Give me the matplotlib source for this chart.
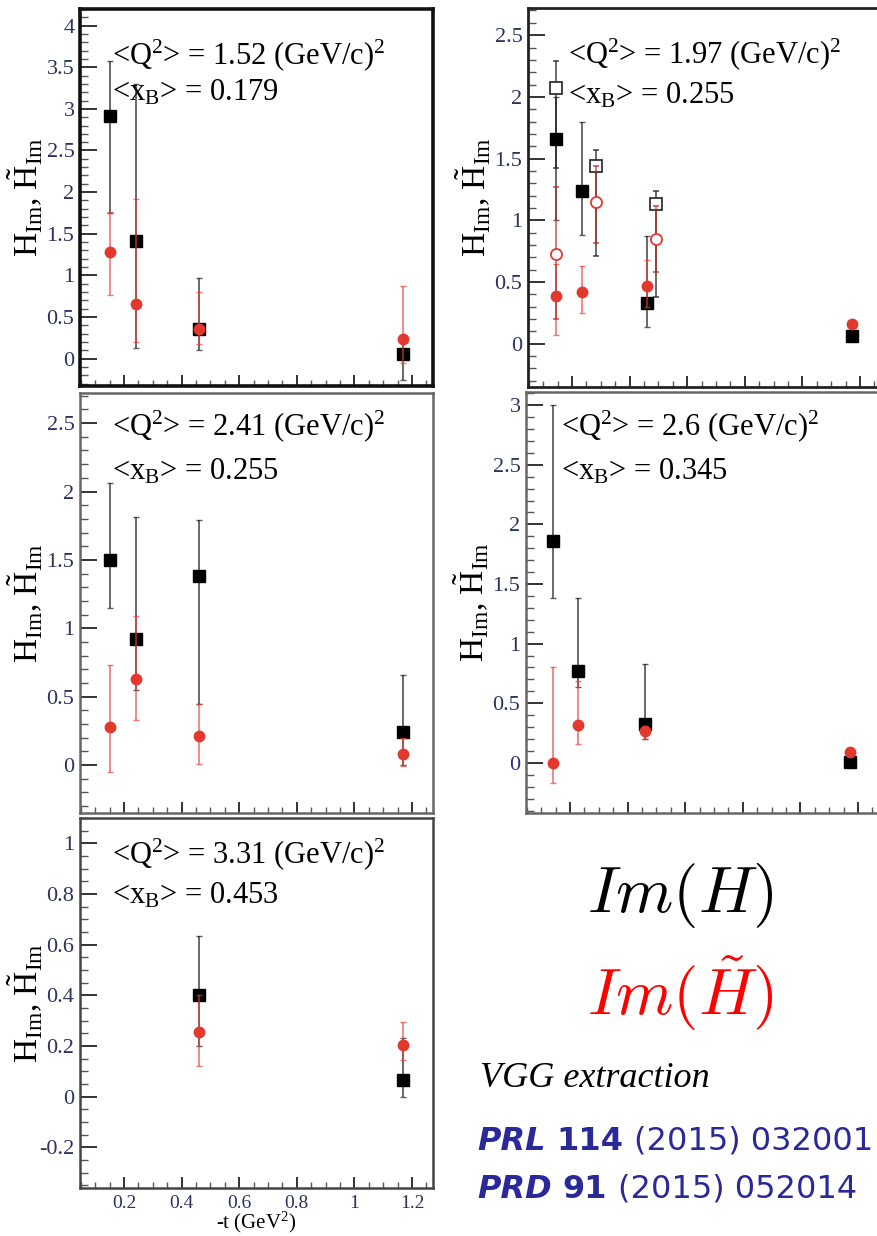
import numpy as np
import matplotlib
matplotlib.use('Agg')
import matplotlib.pyplot as plt
from matplotlib.ticker import MultipleLocator, FuncFormatter

plt.rcParams['font.family'] = ['Liberation Serif', 'DejaVu Serif']
plt.rcParams['mathtext.fontset'] = 'custom'
plt.rcParams['mathtext.rm'] = 'Liberation Serif'
plt.rcParams['mathtext.it'] = 'Liberation Serif:italic'
plt.rcParams['mathtext.bf'] = 'Liberation Serif:bold'

# -t bins, Im(H) (black squares) and Im(H~) (red circles), errors as low/high ends
t1 = [0.15, 0.24, 0.46, 1.17]
h1 = [2.92, 1.41, 0.35, 0.05]
h1_lo = [1.75, 0.13, 0.10, -0.26]
h1_hi = [3.58, 3.30, 0.97, 0.20]
ht1 = [1.28, 0.66, 0.35, 0.23]
ht1_lo = [0.76, 0.20, 0.18, -0.05]
ht1_hi = [1.76, 1.92, 0.80, 0.87]

t2 = [0.145, 0.233, 0.461, 1.171]
h2 = [1.66, 1.24, 0.33, 0.06]
h2_lo = [1.00, 0.88, 0.14, 0.04]
h2_hi = [2.00, 1.80, 0.87, 0.08]
ht2 = [0.39, 0.42, 0.47, 0.16]
ht2_lo = [0.07, 0.25, 0.30, 0.14]
ht2_hi = [0.65, 0.63, 0.68, 0.18]
# open markers in the second bin
t2o = [0.145, 0.283, 0.492]
h2o = [2.07, 1.44, 1.13]
h2o_lo = [1.42, 0.71, 0.38]
h2o_hi = [2.29, 1.57, 1.24]
ht2o = [0.73, 1.15, 0.85]
ht2o_lo = [0.20, 0.82, 0.58]
ht2o_hi = [1.27, 1.44, 1.12]

t3 = [0.15, 0.24, 0.46, 1.17]
h3 = [1.50, 0.92, 1.38, 0.24]
h3_lo = [1.15, 0.55, 0.45, 0.00]
h3_hi = [2.06, 1.81, 1.79, 0.66]
ht3 = [0.28, 0.63, 0.21, 0.08]
ht3_lo = [-0.05, 0.33, 0.01, -0.01]
ht3_hi = [0.73, 1.09, 0.45, 0.20]

t4 = [0.14, 0.229, 0.459, 1.173]
h4 = [1.86, 0.77, 0.33, 0.01]
h4_lo = [1.38, 0.64, 0.20, -0.01]
h4_hi = [3.00, 1.38, 0.83, 0.03]
ht4 = [0.00, 0.32, 0.27, 0.09]
ht4_lo = [-0.17, 0.16, 0.20, 0.07]
ht4_hi = [0.80, 0.69, 0.31, 0.11]

t5 = [0.46, 1.17]
h5 = [0.40, 0.065]
h5_lo = [0.20, 0.00]
h5_hi = [0.635, 0.23]
ht5 = [0.255, 0.206]
ht5_lo = [0.12, 0.147]
ht5_hi = [0.40, 0.295]

q2_vals = ['1.52', '1.97', '2.41', '2.6', '3.31']
xb_vals = ['0.179', '0.255', '0.255', '0.345', '0.453']
x_ticks = [0.2, 0.4, 0.6, 0.8, 1.0, 1.2]
x_ticklabels = ['0.2', '0.4', '0.6', '0.8', '1', '1.2']

W, H = 877, 1236
tick_col = '#2c3160'
red = '#e3382e'


def err(v, lo, hi):
    v = np.array(v); lo = np.array(lo); hi = np.array(hi)
    return [v - lo, hi - v]


def box(l, t, r, b):
    return [l / W, 1 - b / H, (r - l) / W, (b - t) / H]


def fmt_tick(v, pos):
    v = round(v, 3)
    return ('%g' % v).replace('\u2212', '-')


def panel(rect, ylim, ymaj, ymin, q2, xb, txt, frame_col='#555555', frame_w=1.8):
    ax = fig.add_axes(rect)
    ax.set_xlim(0.047, 1.273)
    ax.set_ylim(*ylim)
    ax.yaxis.set_major_locator(MultipleLocator(ymaj))
    ax.yaxis.set_minor_locator(MultipleLocator(ymin))
    ax.yaxis.set_major_formatter(FuncFormatter(fmt_tick))
    ax.set_xticks(x_ticks)
    ax.xaxis.set_minor_locator(MultipleLocator(0.05))
    ax.tick_params(axis='y', which='major', direction='in', length=12, width=1.4,
                   color='#333333', labelsize=16, labelcolor=tick_col, pad=4)
    ax.tick_params(axis='y', which='minor', direction='in', length=6, width=1.0, color='#555555')
    ax.tick_params(axis='x', which='major', direction='in', length=8, width=1.4,
                   color='#333333', labelsize=14, labelcolor=tick_col, pad=5)
    ax.tick_params(axis='x', which='minor', direction='in', length=4, width=1.0, color='#555555')
    ax.set_xticklabels([])
    for s in ax.spines.values():
        s.set_color(frame_col)
        s.set_linewidth(frame_w)
    ax.set_ylabel(r'H$_\mathrm{Im}$, $\tilde{\mathrm{H}}_\mathrm{Im}$', fontsize=24)
    ax.yaxis.set_label_coords(-0.10, 0.5)
    ax.text(txt[0], txt[1], r'<Q$^2$> = ' + q2 + r' (GeV/c)$^2$', transform=ax.transAxes,
            fontsize=22, va='baseline')
    ax.text(txt[0], txt[2], r'<x$_\mathrm{B}$> = ' + xb, transform=ax.transAxes,
            fontsize=22, va='baseline')
    return ax


def points(ax, t, h, h_lo, h_hi, ht, ht_lo, ht_hi):
    ax.errorbar(t, h, yerr=err(h, h_lo, h_hi), fmt='s', ms=8, color='black',
                ecolor=(0.1, 0.1, 0.1, 0.7), elinewidth=1.3, capsize=2.5, capthick=1.0, zorder=3)
    ax.errorbar(t, ht, yerr=err(ht, ht_lo, ht_hi), fmt='o', ms=7.5, color=red,
                ecolor=(0.9, 0.25, 0.2, 0.7), elinewidth=1.2, capsize=2.5, capthick=1.0, zorder=4)


fig = plt.figure(figsize=(W / 100, H / 100), dpi=100)

ax1 = panel(box(80, 9, 433, 386), (-0.33, 4.2), 0.5, 0.1, q2_vals[0], xb_vals[0],
            (0.09, 0.854, 0.756), frame_col='#111111', frame_w=2.6)
points(ax1, t1, h1, h1_lo, h1_hi, ht1, ht1_lo, ht1_hi)

ax2 = panel(box(528, 8, 881, 387), (-0.35, 2.72), 0.5, 0.1, q2_vals[1], xb_vals[1],
            (0.113, 0.855, 0.748), frame_col='#222222', frame_w=2.0)
points(ax2, t2, h2, h2_lo, h2_hi, ht2, ht2_lo, ht2_hi)
ax2.errorbar(t2o, h2o, yerr=err(h2o, h2o_lo, h2o_hi), fmt='s', ms=9, mfc='white', mec='#333333',
             mew=1.3, ecolor=(0.1, 0.1, 0.1, 0.7), elinewidth=1.3, capsize=2.5, zorder=3)
ax2.errorbar(t2o, ht2o, yerr=err(ht2o, ht2o_lo, ht2o_hi), fmt='o', ms=8, mfc='white', mec=red,
             mew=1.3, ecolor=(0.7, 0.15, 0.12, 0.7), elinewidth=1.2, capsize=2.5, zorder=4)

ax3 = panel(box(80, 393, 433, 813), (-0.35, 2.72), 0.5, 0.1, q2_vals[2], xb_vals[2],
            (0.09, 0.9, 0.795), frame_col='#666666')
points(ax3, t3, h3, h3_lo, h3_hi, ht3, ht3_lo, ht3_hi)

ax4 = panel(box(526, 392, 879, 813), (-0.42, 3.11), 0.5, 0.1, q2_vals[3], xb_vals[3],
            (0.10, 0.898, 0.793), frame_col='#666666')
points(ax4, t4, h4, h4_lo, h4_hi, ht4, ht4_lo, ht4_hi)

ax5 = panel(box(80, 818, 433, 1188), (-0.36, 1.1), 0.2, 0.05, q2_vals[4], xb_vals[4],
            (0.09, 0.878, 0.77), frame_col='#444444')
points(ax5, t5, h5, h5_lo, h5_hi, ht5, ht5_lo, ht5_hi)
ax5.set_xticklabels(x_ticklabels)
ax5.set_xlabel(r'-t (GeV$^2$)', fontsize=15, labelpad=0)
ax5.xaxis.set_label_coords(0.5, -0.058)

# legend-like annotations on the right
fig.text(680 / W, 1 - 912 / H, r'$Im(H)$', math_fontfamily='cm', fontsize=47,
         ha='center', va='baseline', color='black')
fig.text(680 / W, 1 - 1015 / H, r'$Im(\tilde{H})$', math_fontfamily='cm', fontsize=47,
         ha='center', va='baseline', color='red')
fig.text(480 / W, 1 - 1087 / H, 'VGG extraction', fontsize=26, style='italic',
         va='baseline', color='black')

ref_col = '#29299a'
refs = [
    [('PRL', 'bold', 'italic'), ('114', 'bold', 'normal'), ('(2015) 032001', 'normal', 'normal')],
    [('PRD', 'bold', 'italic'), ('91', 'bold', 'normal'), ('(2015) 052014', 'normal', 'normal')],
]
ref_base = [1150, 1198]
renderer = fig.canvas.get_renderer()
for line, yb in zip(refs, ref_base):
    x = 477
    for word, weight, style in line:
        t = fig.text(x / W, 1 - yb / H, word, fontsize=23, family='DejaVu Sans',
                     weight=weight, style=style, color=ref_col, va='baseline')
        bb = t.get_window_extent(renderer=renderer)
        x = bb.x1 + 11

fig.savefig('out.png', dpi=100)
